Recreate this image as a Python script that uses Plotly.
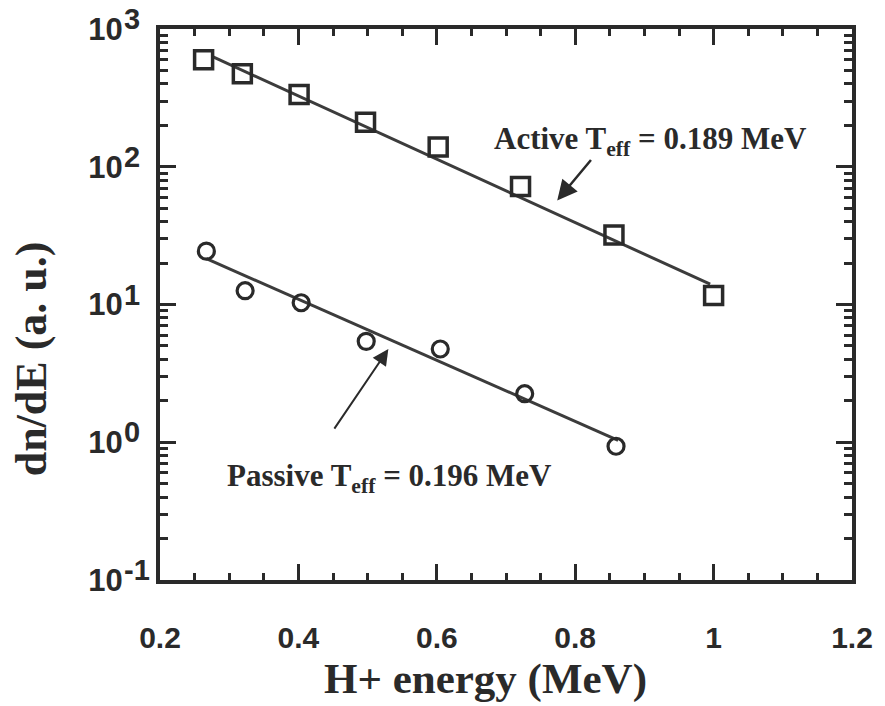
import numpy as np
import plotly.graph_objects as go

# Proton energy spectra (H+), dn/dE in arbitrary units
active_E = [0.263, 0.319, 0.401, 0.497, 0.602, 0.721, 0.856, 1.000]
active_N = [598, 474, 335, 211, 139, 72, 32, 11.6]

passive_E = [0.267, 0.323, 0.404, 0.498, 0.605, 0.727, 0.859]
passive_N = [24.4, 12.6, 10.3, 5.4, 4.75, 2.25, 0.935]

# Exponential fits  dn/dE = N0 * exp(-(E - E0) / Teff)
active_T = 0.189
active_fit_E = [0.276, 0.995]
active_N0 = 630

passive_T = 0.196
passive_fit_E = [0.267, 0.862]
passive_N0 = 21.5

x_ticks = [0.2, 0.4, 0.6, 0.8, 1.0, 1.2]
x_ticklabels = ["0.2", "0.4", "0.6", "0.8", "1", "1.2"]
decades = [-1, 0, 1, 2, 3]


def fit_curve(E, N0, T):
    E = np.asarray(E)
    return N0 * np.exp(-(E - E[0]) / T)


ink = "#2a2a2a"
serif = "Liberation Serif"
sans = "Liberation Sans"

fig = go.Figure()

fig.add_trace(go.Scatter(
    x=active_fit_E, y=fit_curve(active_fit_E, active_N0, active_T),
    mode="lines", line=dict(color="#3c3c3c", width=3), showlegend=False))
fig.add_trace(go.Scatter(
    x=passive_fit_E, y=fit_curve(passive_fit_E, passive_N0, passive_T),
    mode="lines", line=dict(color="#3c3c3c", width=3), showlegend=False))

fig.add_trace(go.Scatter(
    x=active_E, y=active_N, mode="markers", showlegend=False,
    marker=dict(symbol="square-open", size=18, color=ink,
                line=dict(width=3.5, color=ink))))
fig.add_trace(go.Scatter(
    x=passive_E, y=passive_N, mode="markers", showlegend=False,
    marker=dict(symbol="circle-open", size=16, color=ink,
                line=dict(width=3.2, color=ink))))

ytickvals = [10.0 ** d for d in decades]
yminor = [m * 10.0 ** d for d in decades[:-1] for m in range(2, 10)]

fig.update_xaxes(
    range=[0.2, 1.2], tickmode="array", tickvals=x_ticks, ticktext=x_ticklabels,
    ticks="inside", ticklen=16, tickwidth=3, tickcolor=ink,
    minor=dict(dtick=0.05, tick0=0.2, ticks="inside", ticklen=7,
               tickwidth=3, tickcolor=ink),
    showline=True, linewidth=4, linecolor=ink, mirror="allticks",
    showgrid=False, zeroline=False,
    tickfont=dict(family=sans, size=30, color=ink, weight="bold"),
    ticklabelstandoff=28,
)
fig.update_yaxes(
    type="log", range=[-1.0005, 3.0005], tickmode="array",
    tickvals=ytickvals, ticktext=["10"] * len(decades),
    ticks="inside", ticklen=16, tickwidth=3, tickcolor=ink,
    minor=dict(tickmode="array", tickvals=yminor, ticks="inside",
               ticklen=8, tickwidth=3, tickcolor=ink),
    showline=True, linewidth=4, linecolor=ink, mirror="allticks",
    showgrid=False, zeroline=False,
    tickfont=dict(family=sans, size=31, color=ink, weight="bold"),
    ticklabelstandoff=27,
)

# decade exponents next to the "10" labels
for d in decades:
    fig.add_annotation(
        xref="paper", yref="y", x=-0.055, y=d, xanchor="left",
        yanchor="middle", yshift=10, showarrow=False, text="<b>%d</b>" % d,
        font=dict(family=sans, size=29, color=ink))

# axis titles
fig.add_annotation(
    xref="paper", yref="paper", x=-0.186, y=0.401, textangle=-90,
    xanchor="center", yanchor="middle", showarrow=False,
    text="<b>dn/dE (a. u.)</b>", font=dict(family=serif, size=44, color=ink))
fig.add_annotation(
    xref="paper", yref="paper", x=0.471, y=-0.180,
    xanchor="center", yanchor="middle", showarrow=False,
    text="<b>H+ energy (MeV)</b>", font=dict(family=serif, size=43, color=ink))

# arrows pointing at the fit lines
fig.add_annotation(
    x=0.774, y=1.755, ax=35, ay=-42, text="", showarrow=True,
    arrowhead=2, arrowsize=1.6, arrowwidth=2.5, arrowcolor=ink)
fig.add_annotation(
    x=0.530, y=0.676, ax=-55, ay=81, text="", showarrow=True,
    arrowhead=2, arrowsize=1.6, arrowwidth=2, arrowcolor=ink)

fig.add_annotation(
    x=0.909, y=2.19, xanchor="center", yanchor="middle", showarrow=False,
    text="<b>Active T<sub>eff</sub> = %.3f MeV</b>" % active_T,
    font=dict(family=serif, size=31, color=ink))
fig.add_annotation(
    x=0.531, y=-0.26, xanchor="center", yanchor="middle", showarrow=False,
    text="<b>Passive T<sub>eff</sub> = %.3f MeV</b>" % passive_T,
    font=dict(family=serif, size=31, color=ink))

fig.update_layout(
    width=885, height=706,
    margin=dict(l=160, r=27, t=24, b=126),
    paper_bgcolor="white", plot_bgcolor="white",
)

fig.write_html("out.html")
